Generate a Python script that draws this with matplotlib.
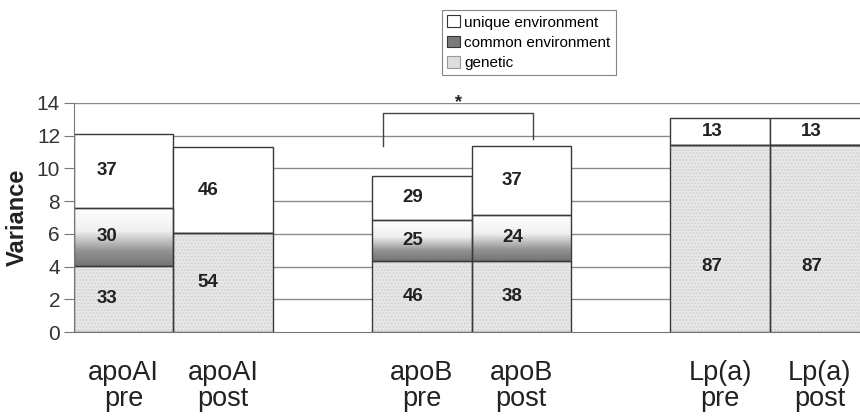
import numpy as np
import matplotlib.pyplot as plt
from matplotlib.colors import LinearSegmentedColormap
from matplotlib.patches import Patch

plt.rcParams['font.family'] = ['Liberation Sans', 'DejaVu Sans']

# bar labels (two per group, one empty slot between groups)
labels = ['apoAI\npre', 'apoAI\npost', 'apoB\npre', 'apoB\npost', 'Lp(a)\npre', 'Lp(a)\npost']

# variance components
genetic = [4.05, 6.05, 4.35, 4.35, 11.45, 11.45]
common = [3.55, 0.0, 2.5, 2.8, 0.0, 0.0]
unique = [4.5, 5.25, 2.7, 4.2, 1.65, 1.65]

# percentages printed inside the segments (None = no label)
pct_genetic = [33, 54, 46, 38, 87, 87]
pct_common = [30, None, 25, 24, None, None]
pct_unique = [37, 46, 29, 37, 13, 13]

legend_labels = ['unique environment', 'common environment', 'genetic']

# -------------------------------------------
# layout
# -------------------------------------------
fig = plt.figure(figsize=(8.6, 4.17), dpi=100)
ax = fig.add_axes([74 / 860, 1 - 332 / 417, 1 - 74 / 860, (332 - 103) / 417])

pos = np.array([g * 3 + k for g in range(3) for k in range(2)], dtype=float)
width = 1.0
edge = '#3a3a3a'

for y in range(2, 15, 2):
    ax.axhline(y, color='#8a8a8a', lw=1.0, zorder=0)

# gradient used for the common environment segments
grad_cmap = LinearSegmentedColormap.from_list(
    'common', [(0.0, '#747474'), (0.25, '#929292'), (0.6, '#f0f0f0'), (1.0, '#ffffff')])
grad = np.linspace(0, 1, 256).reshape(-1, 1)

bottom_common = np.array(genetic)
bottom_unique = bottom_common + np.array(common)

# genetic: light stippled grey
ax.bar(pos, genetic, width=width, align='edge', color='#e8e8e8', edgecolor='#d2d2d2',
       hatch='.....', linewidth=0, zorder=2)
ax.bar(pos, genetic, width=width, align='edge', facecolor='none', edgecolor=edge,
       linewidth=1.0, zorder=4)

# common environment: white-to-grey fade
for x, b, h in zip(pos, bottom_common, common):
    if h <= 0:
        continue
    ax.imshow(grad, cmap=grad_cmap, origin='lower', aspect='auto',
              extent=[x, x + width, b, b + h], zorder=2)
ax.bar(pos, common, bottom=bottom_common, width=width, align='edge', facecolor='none',
       edgecolor=edge, linewidth=1.0, zorder=4)

# unique environment: white
ax.bar(pos, unique, bottom=bottom_unique, width=width, align='edge', facecolor='white',
       edgecolor=edge, linewidth=1.0, zorder=3)
ax.set_xlim(0, (860 - 74) / 99.4)
ax.set_ylim(0, 14)
ax.set_yticks(range(0, 15, 2))

# percentage labels
offsets = [0.33, 0.35, 0.41, 0.41, 0.42, 0.42]
for i, x in enumerate(pos):
    segs = [(0, genetic[i], pct_genetic[i]),
            (bottom_common[i], common[i], pct_common[i]),
            (bottom_unique[i], unique[i], pct_unique[i])]
    for b, h, p in segs:
        if p is None or h <= 0:
            continue
        yc = min(b + h / 2, 4.0) if b == 0 else b + h / 2
        ax.text(x + offsets[i], yc, str(p), ha='center', va='center',
                fontsize=13.5, fontweight='bold', color='#222222', zorder=5)

# significance bracket between apoB pre and post
bx0, bx1 = pos[2] + 0.11, pos[3] + 0.62
ax.plot([bx0, bx0, bx1, bx1], [11.4, 13.4, 13.4, 11.8], color='#444444', lw=1.0,
        zorder=5, clip_on=False)
ax.text((bx0 + bx1) / 2, 14.05, '*', ha='center', va='center', fontsize=13,
        fontweight='bold', color='#222222', zorder=5, clip_on=False)

# axes styling
for s in ['top', 'right']:
    ax.spines[s].set_visible(False)
ax.spines['left'].set_color('#777777')
ax.spines['bottom'].set_color('#777777')
ax.spines['left'].set_zorder(6)
ax.tick_params(axis='y', length=7, color='#777777', labelsize=15, labelcolor='#333333', pad=3)
ax.set_xticks(pos + width / 2)
ax.set_xticklabels(labels, fontsize=19.5, color='#222222', linespacing=1.0)
ax.tick_params(axis='x', length=0, pad=20)
ax.set_ylabel('Variance', fontsize=17, fontweight='bold', labelpad=0, color='#222222')
ax.yaxis.set_label_coords(-0.058, 0.5)

handles = [Patch(facecolor='white', edgecolor='#333333', lw=0.8),
           Patch(facecolor='#7a7a7a', edgecolor='#333333', lw=0.8),
           Patch(facecolor='#dddddd', edgecolor='#999999', lw=0.8)]
leg = fig.legend(handles, legend_labels, loc='upper left', bbox_to_anchor=(442 / 860, 1 - 10 / 417),
                 fontsize=11, frameon=True, fancybox=False, borderpad=0.35, labelspacing=0.4,
                 handlelength=0.8, handleheight=0.8, handletextpad=0.3, borderaxespad=0)
leg.get_frame().set_edgecolor('#666666')
leg.get_frame().set_linewidth(0.8)

fig.savefig('out.png', dpi=100)
